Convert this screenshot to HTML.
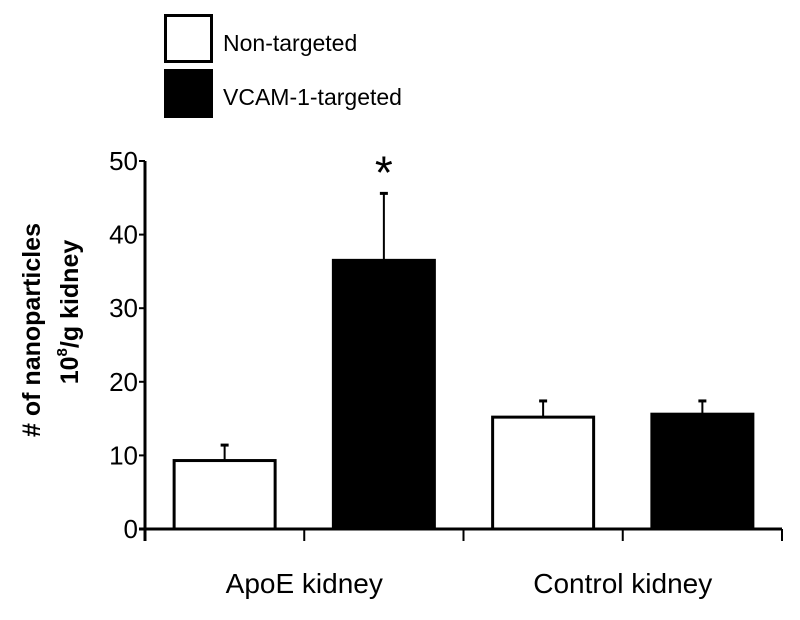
<!DOCTYPE html>
<html><head><meta charset="utf-8"><style>
body{margin:0;background:#fff}
svg text{font-family:"Liberation Sans",Arial,sans-serif;fill:#000}
</style></head><body>
<svg width="800" height="615" viewBox="0 0 800 615" xmlns="http://www.w3.org/2000/svg">
<g>
<rect x="165.5" y="15.5" width="46" height="46" fill="#fff" stroke="#000" stroke-width="3"/>
<text x="223" y="51" font-size="23">Non-targeted</text>
<rect x="164" y="69" width="49" height="49" fill="#000"/>
<text x="223" y="105" font-size="23">VCAM-1-targeted</text>
</g>
<g>
<text transform="translate(40,330) rotate(-90)" text-anchor="middle" font-size="25" font-weight="bold">
# of nanoparticles</text>
<text transform="translate(78,312) rotate(-90)" text-anchor="middle" font-size="25" font-weight="bold">10<tspan font-size="15" dy="-11">8</tspan><tspan dy="11">/g kidney</tspan></text>
</g>
<g id="plot"></g>
</svg>
<script>
const categories=["ApoE kidney","Control kidney"];
const nonTargeted=[9.3,15.2];
const nonTargetedErr=[11.4,17.4];
const vcamTargeted=[36.5,15.6];
const vcamTargetedErr=[45.6,17.4];
const yTicks=[0,10,20,30,40,50];
const NS="http://www.w3.org/2000/svg";
const g=document.getElementById('plot');
const X0=145,X1=782,Y0=529,Y50=161;
const y=v=>Y0-(Y0-Y50)*v/50;
const groupW=(X1-X0)/categories.length;
function mk(t,a){const e=document.createElementNS(NS,t);for(const k in a)e.setAttribute(k,a[k]);g.appendChild(e);return e;}
let ax=mk('line',{x1:X0,y1:Y50,x2:X0,y2:Y0+12,stroke:'#000','stroke-width':3});


let bx=mk('line',{x1:X0-6,y1:Y0,x2:X1,y2:Y0,stroke:'#000','stroke-width':3});


yTicks.forEach(v=>{
 let t=mk('line',{x1:X0-6,y1:y(v),x2:X0,y2:y(v),stroke:'#000','stroke-width':2});
 
 
 let l=mk('text',{x:X0-7,y:y(v)+9,'font-size':26,'text-anchor':'end'});
 l.textContent=v;
 
 
});
for(let i=0;i<=categories.length*2;i++){
 let t=mk('line',{x1:X0+i*groupW/2,y1:Y0,x2:X0+i*groupW/2,y2:Y0+12,stroke:'#000','stroke-width':2});
 
 
}
const bw=101;
categories.forEach((c,i)=>{
 const gx=X0+i*groupW;
 const specs=[[nonTargeted[i],nonTargetedErr[i],'#fff',gx+groupW/4,'bar-non-targeted'],[vcamTargeted[i],vcamTargetedErr[i],'#000',gx+3*groupW/4,'bar-vcam-targeted']];
 specs.forEach(([v,e,f,cx,n])=>{
  let el=mk('line',{x1:cx,y1:y(v),x2:cx,y2:y(e),stroke:'#000','stroke-width':2});
  
  
  let cap=mk('line',{x1:cx-4,y1:y(e),x2:cx+4,y2:y(e),stroke:'#000','stroke-width':3});
  
  
  let r=mk('rect',{x:cx-bw/2,y:y(v),width:bw,height:Y0-y(v),fill:f,stroke:'#000','stroke-width':3});
  
  
 });
 let l=mk('text',{x:gx+groupW/2,y:593,'font-size':28,'text-anchor':'middle'});
 l.textContent=c;
 
 
});
let s=mk('text',{x:X0+3*groupW/4,y:y(vcamTargetedErr[0])-5,'font-size':46,'text-anchor':'middle'});
s.textContent='*';


</script>
</body></html>
